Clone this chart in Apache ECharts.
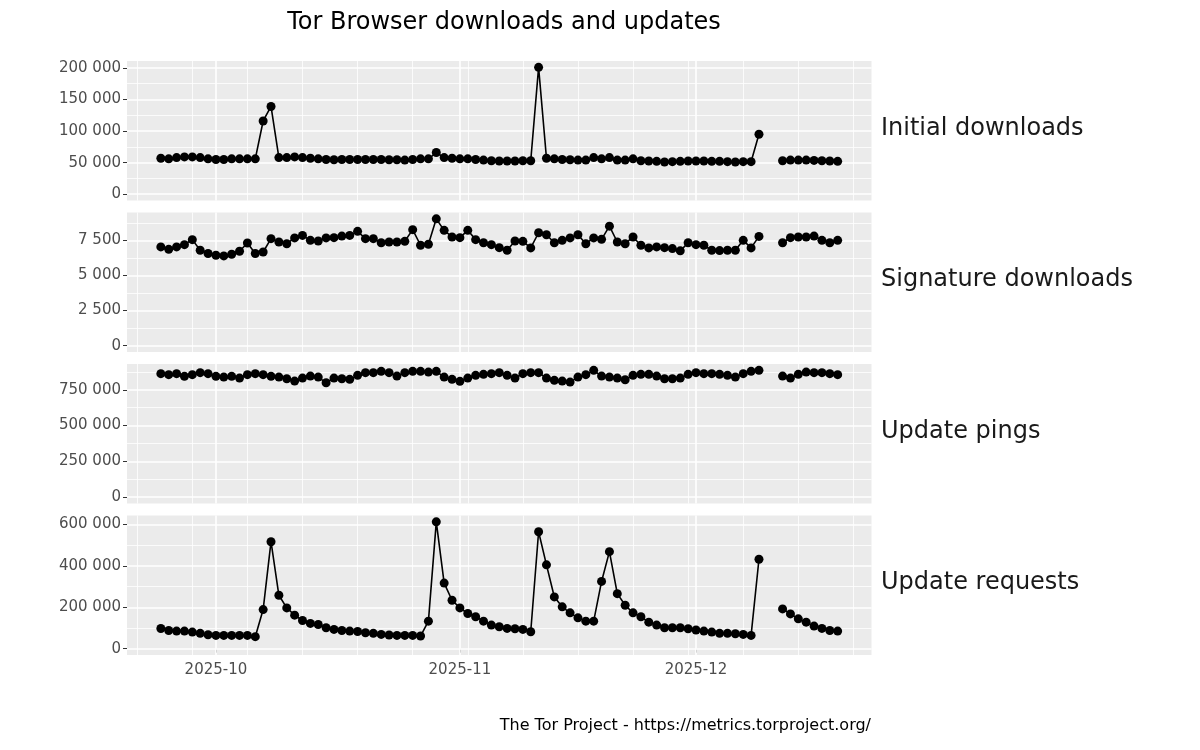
<!DOCTYPE html>
<html><head><meta charset="utf-8">
<script src="https://cdn.jsdelivr.net/npm/echarts@6/dist/echarts.min.js"></script>
<style>html,body{margin:0;background:#fff}#c{width:1200px;height:750px}</style>
</head><body><div id="c"></div>
<script>
// Daily values from 2025-09-24 to 2025-12-19 (null = missing day)
const startDate = '2025-09-24';
const dayCount = 87;
const panelNames = ['Initial downloads','Signature downloads','Update pings','Update requests'];
const initialDownloads = [57000,56000,58000,59000,59000,58000,56000,55000,55000,56000,56000,56000,56000,116000,139000,58000,58000,59000,58000,57000,56000,55000,54500,55000,55000,55000,55000,55000,55000,54500,54500,54000,55000,56000,56000,66000,58000,57000,56000,56000,55000,54000,53000,52500,52500,52500,53000,53000,201000,57000,56000,55000,54500,54000,54000,58000,56000,58000,54000,54000,56000,53000,52500,52000,51000,51500,52000,52500,52500,52500,52000,52000,51500,51000,51500,51500,95000,null,null,53000,54000,54000,54000,53500,53000,52500,52000];
const signatureDownloads = [7030,6860,7030,7190,7550,6790,6560,6440,6390,6510,6720,7310,6560,6670,7620,7380,7260,7670,7850,7500,7450,7670,7690,7800,7850,8140,7620,7620,7330,7380,7380,7430,8260,7150,7220,9030,8210,7740,7690,8210,7550,7330,7190,6980,6790,7450,7430,6960,8040,7900,7330,7500,7670,7900,7260,7670,7570,8510,7380,7260,7740,7150,6960,7030,6980,6910,6750,7330,7190,7150,6790,6770,6790,6790,7500,6960,7780,null,null,7330,7690,7740,7740,7800,7500,7330,7500];
const updatePings = [863000,856000,863000,844000,856000,870000,863000,844000,839000,844000,832000,856000,863000,856000,844000,839000,827000,811000,832000,846000,839000,799000,832000,827000,823000,851000,870000,870000,879000,870000,846000,870000,879000,879000,874000,879000,839000,823000,809000,832000,851000,858000,863000,870000,851000,832000,863000,870000,870000,832000,816000,811000,804000,839000,856000,886000,846000,839000,832000,820000,851000,858000,858000,846000,827000,827000,832000,858000,870000,863000,863000,858000,851000,839000,863000,879000,886000,null,null,846000,832000,858000,874000,870000,870000,863000,856000];
const updateRequests = [97600,88000,85000,85000,80000,74000,67000,64000,64000,64000,64000,64000,58000,189000,517000,258000,197000,162000,136000,122000,117000,101000,93000,88000,85000,83000,77000,74000,69000,66000,64000,64000,64000,61000,133000,613000,317000,234000,197000,170000,154000,133000,114000,106000,98000,96000,93000,82000,565000,405000,250000,202000,173000,149000,133000,133000,325000,469000,266000,210000,173000,154000,128000,114000,101000,101000,101000,96000,90000,85000,80000,74000,74000,72000,69000,64000,432000,null,null,192000,168000,144000,128000,109000,98000,88000,85000];
const yIntervals = [50000,2500,250000,200000];
const monthTicks = ['2025-10-01','2025-11-01','2025-12-01'];
const monthLabels = ['2025-10','2025-11','2025-12'];
const weekLines = ['2025-09-21','2025-09-28','2025-10-05','2025-10-12','2025-10-19','2025-10-26','2025-11-02','2025-11-09','2025-11-16','2025-11-23','2025-11-30','2025-12-07','2025-12-14','2025-12-21'];

const DAY = 86400000;
const ts = d => Date.parse(d + 'T00:00:00Z');
const t0 = ts(startDate);
const dates = [];
for (let i = 0; i < dayCount; i++) dates.push(t0 + i * DAY);
const xMin = t0 - 0.05 * (dayCount - 1) * DAY;
const xMax = t0 + (dayCount - 1) * DAY + 0.05 * (dayCount - 1) * DAY;
const monthTs = monthTicks.map(ts);
const seriesData = [initialDownloads, signatureDownloads, updatePings, updateRequests];
const tops = [61, 212.5, 364, 515.5];
const H = 139.5, L = 127, W = 744.5;
const fmt = v => String(Math.round(v)).replace(/\B(?=(\d{3})+(?!\d))/g, ' ');

const grids = [], xAxes = [], yAxes = [], series = [], graphics = [];
seriesData.forEach((arr, k) => {
  const M = Math.max(...arr.filter(v => v != null));
  const yMin = -0.05 * M, yMax = 1.05 * M;
  const iv = yIntervals[k];
  const majors = [], minors = [];
  for (let v = 0; v <= yMax; v += iv) majors.push(v);
  for (let v = iv / 2; v <= yMax; v += iv) minors.push(v);
  grids.push({left: L, top: tops[k], width: W, height: H, show: true, backgroundColor: '#EBEBEB', borderWidth: 0});
  xAxes.push({type: 'value', gridIndex: k, min: xMin, max: xMax, scale: true, splitLine: {show: false},
    axisLine: {show: false},
    axisTick: {show: k === 3, length: 4, lineStyle: {color: '#333', width: 1}, customValues: monthTs},
    axisLabel: {show: k === 3, color: '#4D4D4D', fontSize: 15, fontFamily: 'DejaVu Sans', margin: 8,
      customValues: monthTs,
      formatter: v => { const i = monthTs.indexOf(v); return i >= 0 ? monthLabels[i] : ''; }}});
  yAxes.push({type: 'value', gridIndex: k, min: yMin, max: yMax, splitLine: {show: false},
    axisLine: {show: false},
    axisTick: {show: true, length: 4, lineStyle: {color: '#333'}, customValues: majors},
    axisLabel: {color: '#4D4D4D', fontSize: 15, fontFamily: 'DejaVu Sans', margin: 6, customValues: majors, formatter: fmt}});
  const lines = [];
  minors.forEach(v => lines.push({yAxis: v, lineStyle: {width: 0.8}}));
  majors.forEach(v => lines.push({yAxis: v, lineStyle: {width: 1.6}}));
  weekLines.forEach(d => lines.push({xAxis: ts(d), lineStyle: {width: 0.8}}));
  monthTs.forEach(v => lines.push({xAxis: v, lineStyle: {width: 1.6}}));
  series.push({type: 'line', xAxisIndex: k, yAxisIndex: k, data: [], silent: true, z: 1,
    markLine: {silent: true, symbol: 'none', z: 1, animation: false, label: {show: false},
      lineStyle: {color: '#FFFFFF', type: 'solid'}, data: lines}});
  series.push({type: 'line', name: panelNames[k], xAxisIndex: k, yAxisIndex: k, z: 5,
    data: dates.map((d, i) => [d, arr[i]]), connectNulls: false,
    symbol: 'circle', symbolSize: 9, showSymbol: true,
    itemStyle: {color: '#000'}, lineStyle: {color: '#000', width: 1.6}, animation: false});
  graphics.push({type: 'text', left: 881, top: tops[k] + H / 2 - 14,
    style: {text: panelNames[k], fontSize: 24, fontFamily: 'DejaVu Sans', fill: '#1A1A1A'}});
});
graphics.push({type: 'text', right: 1200 - 871, top: 718,
  style: {text: 'The Tor Project - https://metrics.torproject.org/', fontSize: 16, fontFamily: 'DejaVu Sans', fill: '#000'}});

const chart = echarts.init(document.getElementById('c'), null, {renderer: 'canvas'});
chart.setOption({
  backgroundColor: '#fff', animation: false,
  title: {text: 'Tor Browser downloads and updates', left: 499, textAlign: 'center', top: 6,
    textStyle: {fontSize: 24, fontWeight: 'normal', fontFamily: 'DejaVu Sans', color: '#000'}},
  grid: grids, xAxis: xAxes, yAxis: yAxes, series: series, graphic: graphics
});
</script></body></html>
